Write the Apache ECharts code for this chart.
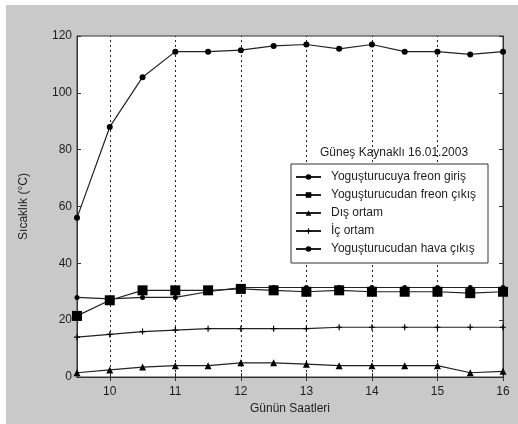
<!DOCTYPE html>
<html>
<head>
<meta charset="utf-8">
<script src="https://cdn.jsdelivr.net/npm/echarts@6/dist/echarts.min.js"></script>
<style>
  html, body { margin: 0; padding: 0; background: #ffffff; }
  #chart { width: 518px; height: 424px; }
</style>
</head>
<body>
<div id="chart"></div>
<script>
// Saat (günün saatleri)
const hours = [9.5, 10, 10.5, 11, 11.5, 12, 12.5, 13, 13.5, 14, 14.5, 15, 15.5, 16];
// Sıcaklıklar (°C)
const freonGiris = [56, 88, 105.5, 114.5, 114.5, 115, 116.5, 117, 115.5, 117, 114.5, 114.5, 113.5, 114.5];
const freonCikis = [21.5, 27, 30.5, 30.5, 30.5, 31, 30.5, 30, 30.5, 30, 30, 30, 29.5, 30];
const disOrtam = [1.5, 2.5, 3.5, 4, 4, 5, 5, 4.5, 4, 4, 4, 4, 1.5, 2];
const icOrtam = [14, 15, 16, 16.5, 17, 17, 17, 17, 17.5, 17.5, 17.5, 17.5, 17.5, 17.5];
const havaCikis = [28, 27.5, 28, 28, 30, 31.5, 31.5, 31.5, 31.5, 31.5, 31.5, 31.5, 31.5, 31.5];
// Eksen etiketleri
const xTicks = [10, 11, 12, 13, 14, 15, 16];
const gridHours = [10, 11, 12, 13, 14, 15];
const seriesNames = [
  'Yoguşturucuya freon giriş',
  'Yoguşturucudan freon çıkış',
  'Dış ortam',
  'İç ortam',
  'Yoguşturucudan hava çıkış'
];

const FONT = 'Liberation Sans, Arial, sans-serif';
const INK = '#1e1e1e';
const plusSymbol = 'path://M4,0h2v4h4v2h-4v4h-2v-4h-4v-2h4z';

const pair = (ys) => hours.map((h, i) => [h, ys[i]]);

function lineSeries(name, ys, symbol, size, extra) {
  return Object.assign({
    name: name,
    type: 'line',
    data: pair(ys),
    symbol: symbol,
    symbolSize: size,
    showAllSymbol: true,
    lineStyle: { color: '#222', width: 1.2 },
    itemStyle: { color: '#000' },
    animation: false,
    z: 5
  }, extra || {});
}

const chart = echarts.init(document.getElementById('chart'));
chart.setOption({
  backgroundColor: '#c9c9c9',
  animation: false,
  title: {
    text: 'Güneş Kaynaklı 16.01.2003',
    left: 315,
    top: 142,
    textStyle: { fontFamily: FONT, fontSize: 12, fontWeight: 'normal', color: INK }
  },
  grid: {
    left: 77, right: 15, top: 36, bottom: 47,
    show: true, backgroundColor: '#ffffff', borderColor: '#333', borderWidth: 1
  },
  legend: {
    data: seriesNames,
    orient: 'vertical',
    left: 295,
    top: 171,
    itemWidth: 25,
    itemHeight: 7,
    itemGap: 6,
    padding: 0,
    textStyle: { fontFamily: FONT, fontSize: 12, color: INK, padding: [0, 0, 0, 5] },
    z: 10
  },
  graphic: [
    { type: 'rect', shape: { x: 0, y: 0, width: 518, height: 5 }, style: { fill: '#fff' }, silent: true },
    { type: 'rect', shape: { x: 0, y: 0, width: 6, height: 424 }, style: { fill: '#fff' }, silent: true },
    { type: 'rect', shape: { x: 291, y: 164, width: 197, height: 99 },
      style: { fill: '#fff', stroke: '#333', lineWidth: 1 }, z: 8, silent: true }
  ],
  xAxis: [
    {
      type: 'value', min: 9.5, max: 16, position: 'bottom',
      name: 'Günün Saatleri', nameLocation: 'middle', nameGap: 23,
      nameTextStyle: { fontFamily: FONT, fontSize: 12, color: INK },
      axisLine: { show: true, lineStyle: { color: '#333' } },
      axisTick: { show: true, inside: true, length: 4, customValues: xTicks, lineStyle: { color: '#333' } },
      axisLabel: { customValues: xTicks, fontFamily: FONT, fontSize: 12, color: INK, margin: 9 },
      splitLine: { show: false }
    },
    {
      type: 'value', min: 9.5, max: 16, position: 'top',
      axisLine: { show: true, lineStyle: { color: '#333' } },
      axisTick: { show: true, inside: true, length: 4, customValues: xTicks, lineStyle: { color: '#333' } },
      axisLabel: { show: false },
      splitLine: { show: false }
    }
  ],
  yAxis: [
    {
      type: 'value', min: 0, max: 120, interval: 20, position: 'left',
      name: 'Sıcaklık (°C)', nameLocation: 'middle', nameGap: 47, nameRotate: 90,
      nameTextStyle: { fontFamily: FONT, fontSize: 12, color: INK },
      axisLine: { show: true, lineStyle: { color: '#333' } },
      axisTick: { show: true, inside: true, length: 4, lineStyle: { color: '#333' } },
      axisLabel: { fontFamily: FONT, fontSize: 12, color: INK, margin: 5 },
      splitLine: { show: false }
    },
    {
      type: 'value', min: 0, max: 120, interval: 20, position: 'right',
      axisLine: { show: true, lineStyle: { color: '#333' } },
      axisTick: { show: true, inside: true, length: 4, lineStyle: { color: '#333' } },
      axisLabel: { show: false },
      splitLine: { show: false }
    }
  ],
  series: [
    lineSeries(seriesNames[0], freonGiris, 'circle', 6, {
      markLine: {
        silent: true,
        symbol: 'none',
        label: { show: false },
        lineStyle: { color: '#222', type: [2, 3], width: 1 },
        data: gridHours.map((h) => ({ xAxis: h })),
        z: 1
      }
    }),
    lineSeries(seriesNames[1], freonCikis, 'rect', 10),
    lineSeries(seriesNames[2], disOrtam, 'triangle', 7),
    lineSeries(seriesNames[3], icOrtam, plusSymbol, 6),
    lineSeries(seriesNames[4], havaCikis, 'circle', 5)
  ]
});
</script>
</body>
</html>
